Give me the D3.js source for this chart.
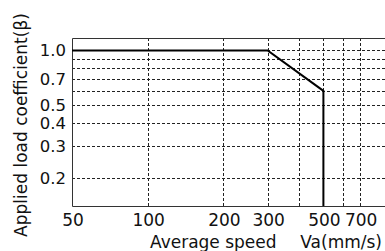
<!DOCTYPE html>
<html>
<head>
<meta charset="utf-8">
<script src="https://cdn.jsdelivr.net/npm/d3@7"></script>
<style>
  body { margin: 0; background: #fff; }
  svg { display: block; }
  text { font-family: "DejaVu Sans", Verdana, sans-serif; fill: #111; }
</style>
</head>
<body>
<svg width="385" height="251"></svg>
<script>
// curve: average speed (mm/s) vs applied load coefficient
const speeds = [50, 300, 500, 500];
const coeffs = [1.0, 1.0, 0.6, 0.1398];

const xGrid = [100, 200, 300, 400, 500, 600, 700];
const xLabels = [50, 100, 200, 300, 500, 700];
const yGrid = [1.0, 0.9, 0.8, 0.7, 0.6, 0.5, 0.4, 0.3, 0.2];
const yLabels = ['1.0', '0.7', '0.5', '0.4', '0.3', '0.2'];

const svg = d3.select('svg');
const frame = { left: 72, top: 38, bottom: 206, right: 385 };

const x = d3.scaleLog()
    .domain([50, 1000])
    .range([frame.left, frame.left + 251.4 * Math.log10(1000 / 50)]);

const y = d3.scaleLog()
    .domain([0.1398, 1.171])
    .range([frame.bottom, frame.top]);

const g = svg.append('g');

// grid
g.selectAll('.hgrid')
    .data(yGrid)
    .join('line')
    .attr('x1', frame.left)
    .attr('x2', frame.right)
    .attr('y1', d => Math.round(y(d)) + 0.5)
    .attr('y2', d => Math.round(y(d)) + 0.5)
    .attr('stroke', '#222')
    .attr('stroke-width', 1)
    .attr('stroke-dasharray', '3,2');

g.selectAll('.vgrid')
    .data(xGrid)
    .join('line')
    .attr('x1', d => Math.round(x(d)) + 0.5)
    .attr('x2', d => Math.round(x(d)) + 0.5)
    .attr('y1', frame.top)
    .attr('y2', frame.bottom)
    .attr('stroke', '#222')
    .attr('stroke-width', 1)
    .attr('stroke-dasharray', '3,2');

// frame (left, top, bottom)
g.append('path')
    .attr('d', `M${frame.right},${frame.top + 0.5}H${frame.left + 0.5}V${frame.bottom + 0.5}H${frame.right}`)
    .attr('fill', 'none')
    .attr('stroke', '#333')
    .attr('stroke-width', 1);

// data line
const line = d3.line()
    .x(d => x(d[0]))
    .y(d => y(d[1]));

g.append('path')
    .datum(speeds.map((s, i) => [s, coeffs[i]]))
    .attr('d', line)
    .attr('fill', 'none')
    .attr('stroke', '#000')
    .attr('stroke-width', 2);

// tick labels
g.selectAll('.xl')
    .data(xLabels)
    .join('text')
    .attr('x', d => x(d) + 1)
    .attr('y', 226)
    .attr('text-anchor', 'middle')
    .attr('font-size', 17)
    .text(d => d);

g.selectAll('.yl')
    .data(yLabels)
    .join('text')
    .attr('x', 66)
    .attr('y', d => y(+d))
    .attr('dy', '0.36em')
    .attr('text-anchor', 'end')
    .attr('font-size', 16.5)
    .text(d => d);

// axis titles
svg.append('text')
    .attr('x', 150)
    .attr('y', 248)
    .attr('font-size', 17)
    .text('Average speed');

svg.append('text')
    .attr('x', 382)
    .attr('y', 248)
    .attr('text-anchor', 'end')
    .attr('font-size', 17)
    .text('Va(mm/s)');

svg.append('text')
    .attr('transform', 'translate(27,125) rotate(-90)')
    .attr('text-anchor', 'middle')
    .attr('font-size', 17)
    .text('Applied load coefficient(β)');
</script>
</body>
</html>
